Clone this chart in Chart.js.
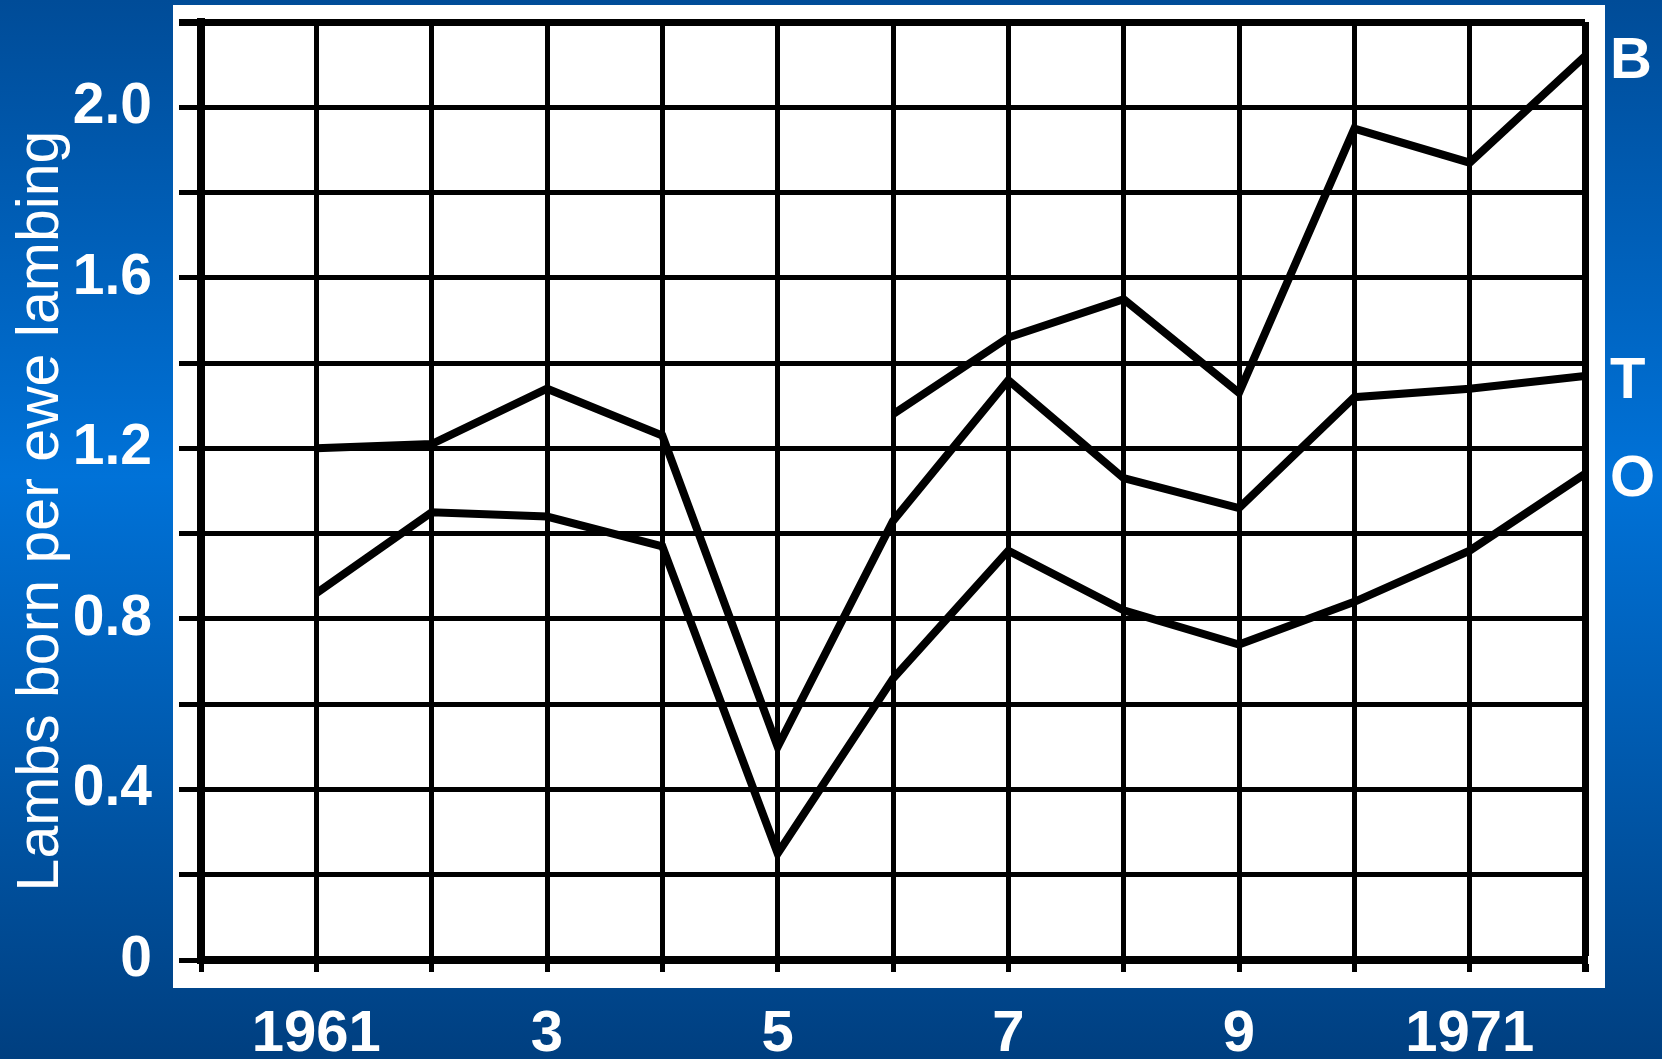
<!DOCTYPE html>
<html>
<head>
<meta charset="utf-8">
<script src="https://cdn.jsdelivr.net/npm/chart.js@4.4.1/dist/chart.umd.min.js"></script>
<style>
  html, body { margin: 0; padding: 0; background: #0060b8; }
  canvas { display: block; }
</style>
</head>
<body>
<canvas id="lambChart" width="1662" height="1059"></canvas>
<script>
// lambs born per ewe lambing, 1961-1972
const years = [1961, 1962, 1963, 1964, 1965, 1966, 1967, 1968, 1969, 1970, 1971, 1972];
const seriesB = [null, null, null, null, null, 1.28, 1.46, 1.55, 1.33, 1.95, 1.87, 2.12];
const seriesT = [1.20, 1.21, 1.34, 1.23, 0.50, 1.03, 1.36, 1.13, 1.06, 1.32, 1.34, 1.37];
const seriesO = [0.86, 1.05, 1.04, 0.97, 0.25, 0.66, 0.96, 0.82, 0.74, 0.84, 0.96, 1.14];
const seriesNames = ["B", "T", "O"];

const xTickYears = [1961, 1963, 1965, 1967, 1969, 1971];
const xTickText = ["1961", "3", "5", "7", "9", "1971"];
const yTickValues = [0, 0.4, 0.8, 1.2, 1.6, 2.0];
const yTickText = ["0", "0.4", "0.8", "1.2", "1.6", "2.0"];
const yTitle = "Lambs born per ewe lambing";

const fontFamily = "'Liberation Sans', Arial, sans-serif";

function toPoints(values) {
  return years.map((yr, i) => ({ x: yr, y: values[i] }));
}

// blue slide background + white paper behind the grid
const backdrop = {
  id: "backdrop",
  beforeDraw(chart) {
    const ctx = chart.ctx;
    const area = chart.chartArea;
    const g = ctx.createLinearGradient(0, 0, 0, chart.height);
    g.addColorStop(0, "#004c98");
    g.addColorStop(0.45, "#0072d8");
    g.addColorStop(1, "#003f80");
    ctx.save();
    ctx.fillStyle = g;
    ctx.fillRect(0, 0, chart.width, chart.height);
    ctx.fillStyle = "#ffffff";
    ctx.fillRect(area.left - 28, area.top - 17, area.right - area.left + 48, area.bottom - area.top + 45);
    ctx.restore();
  }
};

// B / T / O letters next to line ends, plus the rotated y title
const sideText = {
  id: "sideText",
  afterDatasetsDraw(chart) {
    const ctx = chart.ctx;
    const area = chart.chartArea;
    ctx.save();
    ctx.fillStyle = "#ffffff";
    ctx.font = "bold 58px " + fontFamily;
    ctx.textAlign = "left";
    ctx.textBaseline = "middle";
    chart.data.datasets.forEach((ds, i) => {
      const pts = chart.getDatasetMeta(i).data;
      const last = pts[pts.length - 1];
      ctx.fillText(seriesNames[i], area.right + 25, last.y + 6);
    });

    ctx.translate(42, (area.top + area.bottom) / 2 + 20);
    ctx.rotate(-Math.PI / 2);
    ctx.textAlign = "center";
    ctx.font = "59px " + fontFamily;
    ctx.fillText(yTitle, 0, 0);
    ctx.restore();
  }
};

function noEdgePadding(scale) {
  scale.paddingTop = 0;
  scale.paddingBottom = 0;
  scale.paddingLeft = 0;
  scale.paddingRight = 0;
}

const lineStyle = {
  borderColor: "#000000",
  backgroundColor: "#000000",
  borderWidth: 8,
  pointRadius: 0,
  tension: 0,
  spanGaps: false
};

new Chart(document.getElementById("lambChart").getContext("2d"), {
  type: "line",
  data: {
    datasets: [
      { label: "B", data: toPoints(seriesB), ...lineStyle },
      { label: "T", data: toPoints(seriesT), ...lineStyle },
      { label: "O", data: toPoints(seriesO), ...lineStyle },
    ],
  },
  options: {
    responsive: false,
    devicePixelRatio: 1,
    animation: false,
    layout: {
      padding: { left: 0, right: 77, top: 22, bottom: 0 }
    },
    plugins: {
      legend: { display: false },
      tooltip: { enabled: false }
    },
    scales: {
      x: {
        type: "linear",
        min: 1960,
        max: 1972,
        afterFit(scale) { scale.height = 99; noEdgePadding(scale); },
        afterBuildTicks(scale) {
          scale.ticks = [];
          for (let yr = 1960; yr <= 1972; yr++) scale.ticks.push({ value: yr });
        },
        ticks: {
          color: "#ffffff",
          padding: 28,
          maxRotation: 0,
          autoSkip: false,
          font: { family: fontFamily, size: 58, weight: "bold" },
          callback: (value) => {
            const idx = xTickYears.indexOf(value);
            return idx >= 0 ? xTickText[idx] : "";
          }
        },
        grid: {
          color: "#000000",
          lineWidth: (c) => (c.tick && c.tick.value === 1972 ? 7 : 5),
          drawTicks: true,
          tickLength: 12
        },
        border: { display: true, color: "#000000", width: 8 }
      },
      y: {
        min: 0,
        max: 2.2,
        afterFit(scale) { scale.width = 201; noEdgePadding(scale); },
        ticks: {
          stepSize: 0.2,
          color: "#ffffff",
          padding: 27,
          font: { family: fontFamily, size: 57, weight: "bold" },
          callback: (value) => {
            const idx = yTickValues.findIndex((v) => Math.abs(v - value) < 1e-6);
            return idx >= 0 ? yTickText[idx] : "";
          }
        },
        grid: {
          color: "#000000",
          lineWidth: (c) => (c.tick && Math.abs(c.tick.value - 2.2) < 1e-6 ? 7 : 5),
          drawTicks: true,
          tickLength: 22
        },
        border: { display: true, color: "#000000", width: 8 }
      }
    }
  },
  plugins: [backdrop, sideText]
});
</script>
</body>
</html>
